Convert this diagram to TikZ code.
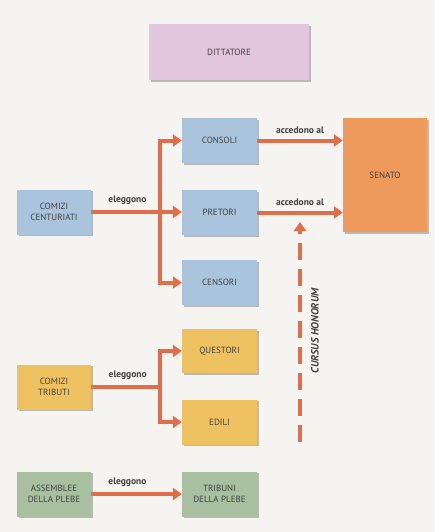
\documentclass[tikz,border=0pt]{standalone}
\usepackage{fontspec}
\setmainfont{PT Sans}
\usetikzlibrary{arrows.meta,shadows,positioning}
\definecolor{carta}{RGB}{246,244,240}
\definecolor{blu}{RGB}{170,196,222}
\definecolor{senato}{RGB}{238,154,92}
\definecolor{freccia}{RGB}{224,110,75}
\definecolor{giallo}{RGB}{238,194,96}
\definecolor{verde}{RGB}{168,192,160}
\definecolor{rosa}{RGB}{226,198,222}
\definecolor{testo}{RGB}{65,65,65}
\tikzset{
    x=1pt, y=-1pt, % one unit is one pixel of the page
    carica/.style={draw=none, text=testo, align=center,
        font=\fontsize{9}{10.5}\selectfont,
        minimum width=75pt, minimum height=45pt,
        drop shadow={shadow xshift=1.8pt, shadow yshift=-1.8pt, fill=black!50}}, % every box
    tratto/.style={draw=freccia, line width=4pt, miter limit=4}, % thick orange line
    freccia/.style={tratto, -{Triangle[width=12pt,length=9pt]}}, % ... with a head
    etichetta/.style={text=testo, font=\fontsize{9.5}{10}\selectfont\bfseries, above=2pt},
}
\begin{document}
\begin{tikzpicture}
  \fill[carta] (0,0) rectangle (435,532);
  \useasboundingbox (0,0) rectangle (435,532);

  % magistrature
  \node[carica, fill=rosa, minimum width=160pt, minimum height=56pt] (dit) at (229,52) {DITTATORE};
  \node[carica, fill=blu] (consoli) at (219.5,140.5) {CONSOLI};
  \node[carica, fill=blu] (pretori) at (219.5,212.5) {PRETORI};
  \node[carica, fill=blu] (censori) at (219.5,282.5) {CENSORI};
  \node[carica, fill=senato, minimum width=84pt, minimum height=114pt] (senato) at (385,175) {SENATO};
  \node[carica, fill=giallo, minimum height=44pt] (questori) at (219.5,351) {QUESTORI};
  \node[carica, fill=giallo] (edili) at (219.5,422) {EDILI};
  \node[carica, fill=verde] (tribuni) at (219.5,494) {TRIBUNI\\DELLA PLEBE};

  % assemblee
  \node[carica, fill=blu, minimum width=74pt] (cc) at (54,212) {COMIZI\\CENTURIATI};
  \node[carica, fill=giallo, minimum width=74pt] (ct) at (54,387) {COMIZI\\TRIBUTI};
  \node[carica, fill=verde, minimum width=74pt] (ap) at (54,494) {ASSEMBLEE\\DELLA PLEBE};

  \coordinate (f1) at (160,212);
  \coordinate (f2) at (160,387);
  \coordinate (ch) at (300,442);

  \path[every edge/.style={freccia}]
    (cc.east |- f1) edge node[etichetta, pos=0.4] {eleggono} (pretori.west |- f1)
    (ap) edge node[etichetta, pos=0.4] {eleggono} (tribuni)
    (consoli) edge node[etichetta] {accedono al} (senato.west |- consoli)
    (pretori) edge node[etichetta] {accedono al} (senato.west |- pretori);
  \draw[tratto] (ct.east |- f2) -- node[etichetta, pos=0.53] {eleggono} (f2);
  \draw[freccia] (f1) |- (consoli.west);
  \draw[freccia] (f1) |- (censori.west);
  \draw[freccia] (f2) |- (questori.west);
  \draw[freccia] (f2) |- (edili.west);

  % cursus honorum
  \draw[freccia, dash pattern=on 17pt off 9pt] (ch) -- (300,222);
  \node[rotate=90, text=testo, font=\fontsize{10.5}{11}\selectfont\bfseries\itshape] (curs) at (315,331) {CURSUS HONORUM};
\end{tikzpicture}
\end{document}
